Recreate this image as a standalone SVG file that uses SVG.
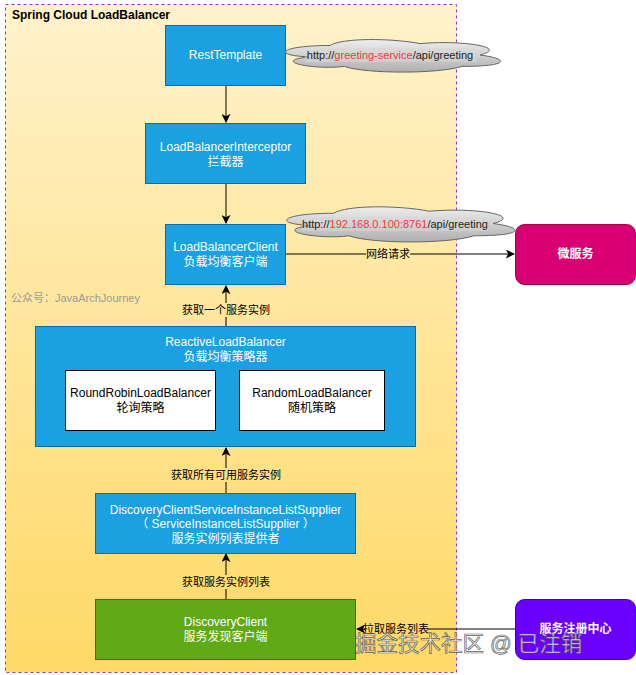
<svg xmlns="http://www.w3.org/2000/svg" width="636" height="675" viewBox="0 0 636 675">
<defs>
<linearGradient id="bg" gradientUnits="userSpaceOnUse" x1="0" y1="4" x2="0" y2="673">
<stop offset="0" stop-color="#FFF2CC"/>
<stop offset="1" stop-color="#FFD966"/>
</linearGradient>
<linearGradient id="cloud" x1="0" y1="0" x2="0" y2="1">
<stop offset="0" stop-color="#EEEEEE"/>
<stop offset="1" stop-color="#AFAFAF"/>
</linearGradient>
<marker id="arr" viewBox="0 0 10 10" refX="9" refY="5" markerWidth="9" markerHeight="9" markerUnits="userSpaceOnUse" orient="auto">
<path d="M0,0 L10,5 L0,10 L2.5,5 Z" fill="#000"/>
</marker>
</defs>
<style>
text{font-family:"Liberation Sans","Noto Sans CJK SC",Arial,sans-serif;font-size:12px;}
.w{fill:#fff;text-anchor:middle;}
.k{fill:#000;text-anchor:middle;}
.lbl{fill:#000;text-anchor:middle;font-size:11px;}
.blue{fill:#1BA1E2;stroke:#006EAF;stroke-width:1;}
.conn{stroke:#000;stroke-width:1;fill:none;marker-end:url(#arr);}
.cl{fill:url(#cloud);stroke:#666;stroke-width:1;}
.ct{font-size:11px;text-anchor:middle;fill:#222;}
.red{fill:#F0383B;}
</style>

<g id="container">
<rect x="5.5" y="4.5" width="451" height="668" fill="url(#bg)" stroke="#9933CC" stroke-width="1" stroke-dasharray="3,3"/>
<text x="12" y="19" font-weight="bold" style="font-size:12px">Spring Cloud LoadBalancer</text>
<text x="11" y="302" fill="#999" style="font-size:11px">公众号：JavaArchJourney</text>
</g>

<g id="connectors">
<line class="conn" x1="226" y1="85" x2="226" y2="122"/>
<line class="conn" x1="226" y1="184" x2="226" y2="223"/>
<line class="conn" x1="286" y1="254" x2="514" y2="254"/>
<rect x="366" y="247" width="44" height="14" fill="url(#bg)"/>
<text class="lbl" x="388" y="258">网络请求</text>
<line class="conn" x1="226" y1="326" x2="226" y2="286"/>
<rect x="180" y="303" width="92" height="14" fill="url(#bg)"/>
<text class="lbl" x="226" y="314">获取一个服务实例</text>
<line class="conn" x1="226" y1="493" x2="226" y2="448"/>
<rect x="170" y="468" width="112" height="14" fill="url(#bg)"/>
<text class="lbl" x="226" y="479">获取所有可用服务实例</text>
<line class="conn" x1="226" y1="599" x2="226" y2="554"/>
<rect x="180" y="575" width="92" height="14" fill="url(#bg)"/>
<text class="lbl" x="226" y="586">获取服务实例列表</text>
<line class="conn" x1="515" y1="629" x2="357" y2="629"/>
<rect x="365" y="622" width="63" height="14" fill="url(#bg)"/>
<text class="lbl" x="396" y="633">拉取服务列表</text>
</g>

<g id="restTemplate">
<rect class="blue" x="165.5" y="25.5" width="120" height="60"/>
<text class="w" x="225.5" y="59">RestTemplate</text>
</g>

<g id="cloud1">
<path class="cl" d="M330,45.5 C282,45.5 270,55 308.4,56.9 C270,61.08 313.2,70.2 344.4,66.4 C366,74 438,74 462,66.4 C510,66.4 510,58.8 480,55 C510,47.4 462,39.8 420,43.6 C390,37.9 342,37.9 330,45.5 Z"/>
<rect x="305" y="48" width="172" height="14" fill="#D8D8D8" opacity="0.5"/>
<text class="ct" x="390" y="59">http://<tspan class="red">greeting-service</tspan>/api/greeting</text>
</g>

<g id="interceptor">
<rect class="blue" x="145.5" y="123.5" width="160" height="60"/>
<text class="w" x="225.5" y="151">LoadBalancerInterceptor</text>
<text class="w" x="225.5" y="166">拦截器</text>
</g>

<g id="lbClient">
<rect class="blue" x="165.5" y="224.5" width="120" height="60"/>
<text class="w" x="225.5" y="251">LoadBalancerClient</text>
<text class="w" x="225.5" y="266">负载均衡客户端</text>
</g>

<g id="cloud2">
<path class="cl" d="M333.75,213.25 C282.75,213.25 270,223.5 310.8,225.55 C270,230.06 315.9,239.9 349.05,235.8 C372,244 448.5,244 474,235.8 C525,235.8 525,227.6 493.125,223.5 C525,215.3 474,207.1 429.375,211.2 C397.5,205.05 346.5,205.05 333.75,213.25 Z"/>
<rect x="302" y="217" width="186" height="14" fill="#D8D8D8" opacity="0.5"/>
<text class="ct" x="395" y="228">http://<tspan class="red">192.168.0.100:8761</tspan>/api/greeting</text>
</g>

<g id="microservice">
<rect x="515.5" y="224.5" width="120" height="60" rx="9" fill="#D80073" stroke="#A50040"/>
<text class="w" x="575.5" y="258" font-weight="bold">微服务</text>
</g>

<g id="reactiveLB">
<rect class="blue" x="35.5" y="326.5" width="380" height="120"/>
<text class="w" x="225.5" y="346">ReactiveLoadBalancer</text>
<text class="w" x="225.5" y="361">负载均衡策略器</text>
</g>

<g id="roundRobin">
<rect x="65.5" y="370.5" width="150" height="60" fill="#fff" stroke="#000"/>
<text class="k" x="140.5" y="397">RoundRobinLoadBalancer</text>
<text class="k" x="140.5" y="412">轮询策略</text>
</g>

<g id="random">
<rect x="239.5" y="370.5" width="145" height="60" fill="#fff" stroke="#000"/>
<text class="k" x="312" y="397">RandomLoadBalancer</text>
<text class="k" x="312" y="412">随机策略</text>
</g>

<g id="supplier">
<rect class="blue" x="95.5" y="493.5" width="260" height="60"/>
<text class="w" x="225.5" y="514">DiscoveryClientServiceInstanceListSupplier</text>
<text class="w" x="225.5" y="528">（ ServiceInstanceListSupplier ）</text>
<text class="w" x="225.5" y="543">服务实例列表提供者</text>
</g>

<g id="discoveryClient">
<rect x="95.5" y="599.5" width="260" height="60" fill="#60A917" stroke="#2D7600"/>
<text class="w" x="225.5" y="626">DiscoveryClient</text>
<text class="w" x="225.5" y="641">服务发现客户端</text>
</g>

<g id="registry">
<rect x="515.5" y="599.5" width="120" height="60" rx="9" fill="#6A00FF" stroke="#3700CC"/>
<text class="w" x="575.5" y="633" font-weight="bold">服务注册中心</text>
</g>

<g id="watermark">
<text x="355" y="651" style="font-size:21.5px" fill="#EDEDED" stroke="#555" stroke-width="0.7" opacity="0.9">掘金技术社区 @ 已注销</text>
</g>
</svg>
